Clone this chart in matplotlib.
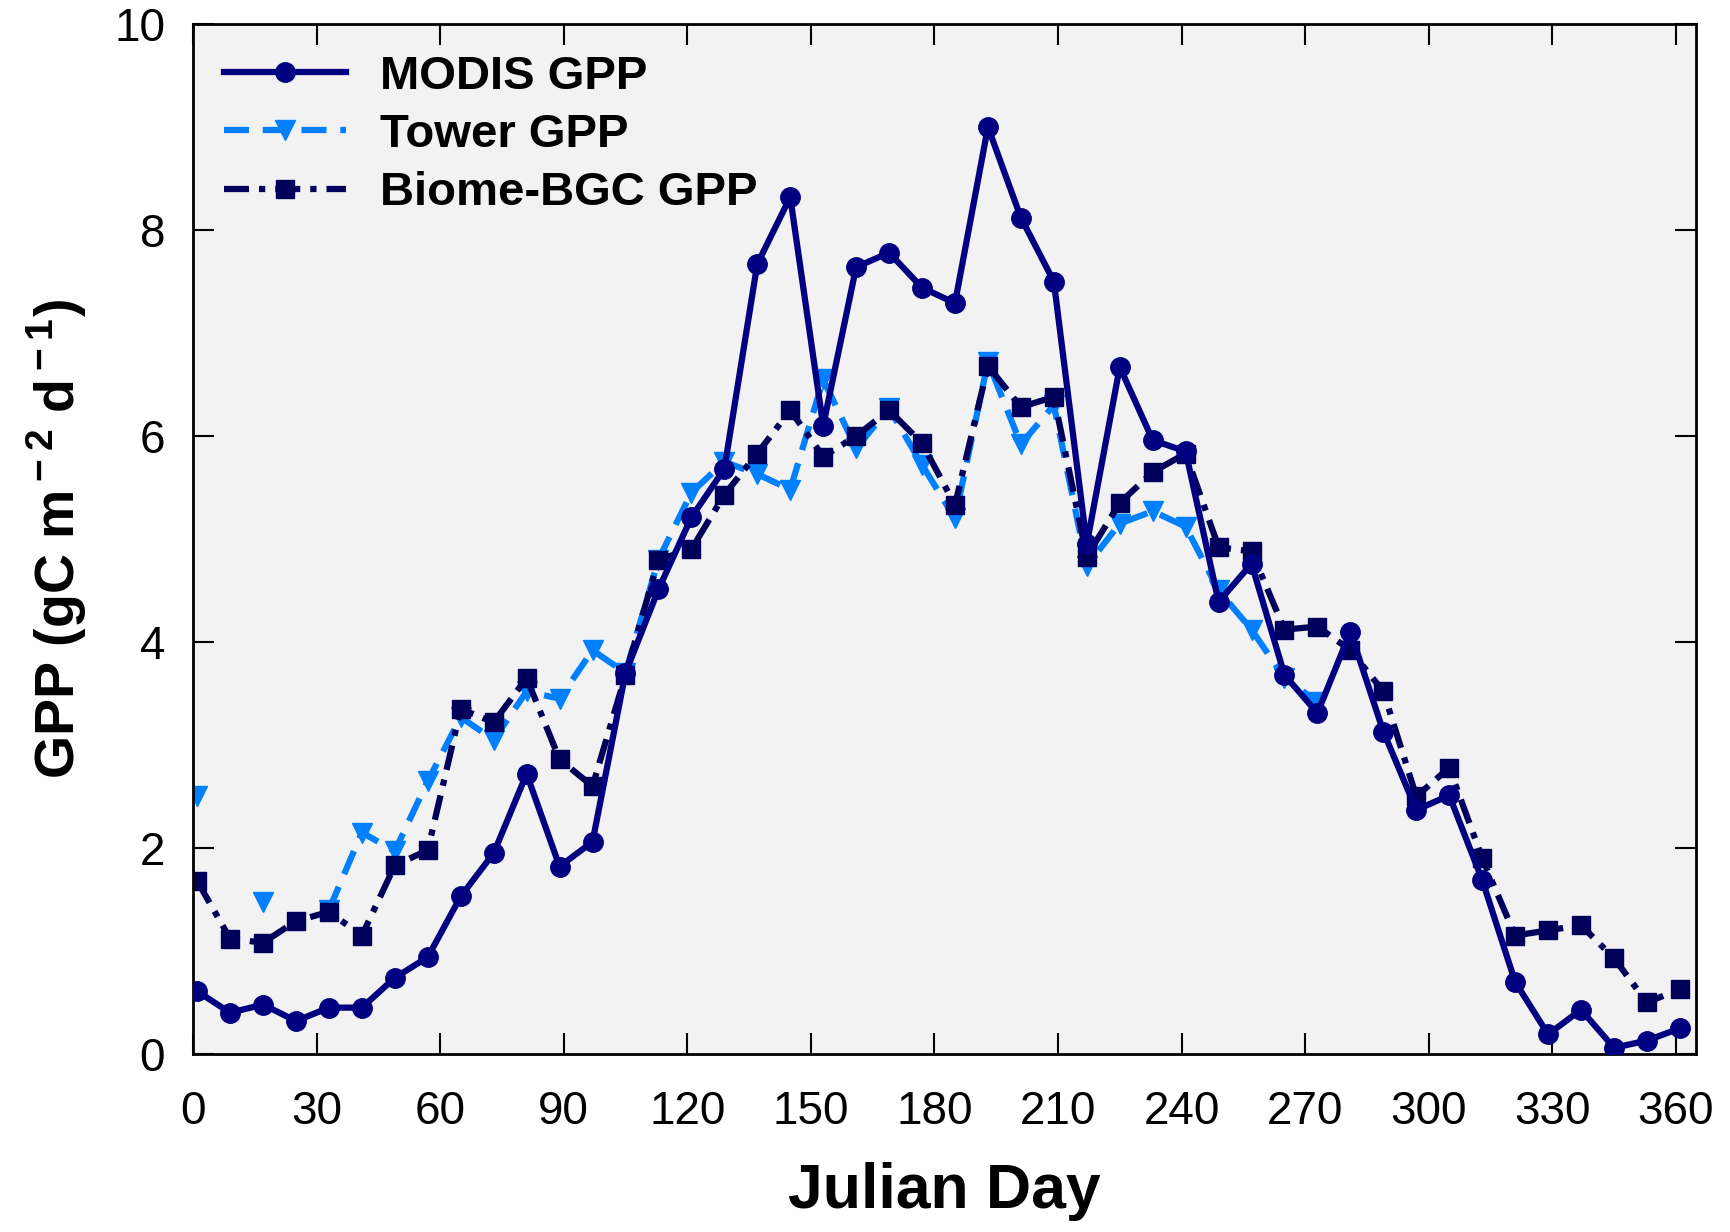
import numpy as np
import matplotlib
matplotlib.use("Agg")
import matplotlib.pyplot as plt

plt.rcParams['font.family'] = ['Liberation Sans', 'DejaVu Sans']
plt.rcParams['mathtext.fontset'] = 'custom'
plt.rcParams['mathtext.rm'] = 'Liberation Sans'
plt.rcParams['mathtext.bf'] = 'Liberation Sans:bold'

# 8-day composite periods
days = np.arange(1, 362, 8)

modis_gpp = [0.61, 0.40, 0.48, 0.32, 0.45, 0.45, 0.74, 0.94, 1.53, 1.95,
             2.72, 1.82, 2.06, 3.70, 4.51, 5.21, 5.68, 7.67, 8.32, 6.10,
             7.64, 7.78, 7.44, 7.29, 9.00, 8.12, 7.50, 4.95, 6.67, 5.96,
             5.85, 4.39, 4.76, 3.68, 3.31, 4.10, 3.13, 2.37, 2.51, 1.69,
             0.70, 0.19, 0.43, 0.06, 0.13, 0.25]

tower_gpp = [2.50, np.nan, 1.48, np.nan, 1.40, 2.15, 1.97, 2.65, 3.27, 3.05,
             3.52, 3.45, 3.92, 3.70, 4.80, 5.45, 5.75, 5.63, 5.48, 6.55,
             5.88, 6.27, 5.72, 5.20, 6.72, 5.92, 6.30, 4.74, 5.15, 5.27,
             5.12, 4.50, 4.12, 3.65, 3.42, np.nan, np.nan, np.nan, np.nan, np.nan,
             np.nan, np.nan, np.nan, np.nan, np.nan, np.nan]

biome_gpp = [1.68, 1.12, 1.08, 1.29, 1.38, 1.15, 1.83, 1.98, 3.35, 3.22,
             3.65, 2.86, 2.60, 3.68, 4.80, 4.90, 5.43, 5.83, 6.25, 5.80,
             6.00, 6.25, 5.93, 5.33, 6.68, 6.28, 6.38, 4.83, 5.35, 5.65,
             5.83, 4.92, 4.88, 4.12, 4.15, 3.92, 3.52, 2.50, 2.78, 1.90,
             1.15, 1.20, 1.25, 0.93, 0.50, 0.63]

fig = plt.figure(figsize=(17.31, 12.32), dpi=100)
ax = fig.add_axes([0.1115, 0.1445, 0.8685, 0.836])
ax.set_facecolor('#f2f2f2')

ax.plot(days, modis_gpp, color='#000080', linewidth=4.5, marker='o',
        markersize=14, label='MODIS GPP', zorder=3)
ax.plot(days, tower_gpp, color='#0080ff', linewidth=4.5, linestyle=(0, (4, 2.2)),
        marker='v', markersize=15, label='Tower GPP', zorder=2)
ax.plot(days, biome_gpp, color='#00005a', linewidth=4.5,
        linestyle=(0, (4, 1.6, 1, 1.6)), marker='s', markersize=13,
        label='Biome-BGC GPP', zorder=2)

ax.set_xlim(0, 365)
ax.set_ylim(0, 10)
ax.set_xticks(np.arange(0, 361, 30))
ax.set_yticks(np.arange(0, 11, 2))
ax.tick_params(direction='in', length=15, width=1.5, labelsize=33,
               top=True, right=True)
ax.tick_params(axis='x', pad=26)
ax.tick_params(axis='y', pad=20)
for side in ax.spines.values():
    side.set_linewidth(2)

ax.set_xlabel('Julian Day', fontsize=45, fontweight='bold', labelpad=20)
ax.set_ylabel(r'GPP (gC m$^{\bf -2}$ d$^{\bf -1}$)', fontsize=40,
              fontweight='bold', labelpad=18)

leg = ax.legend(loc='upper left', frameon=False,
                prop={'weight': 'bold', 'size': 34}, handlelength=2.6,
                borderaxespad=0.1, labelspacing=0.3, handletextpad=0.7,
                borderpad=0.55)

fig.savefig('out.png', dpi=100)
